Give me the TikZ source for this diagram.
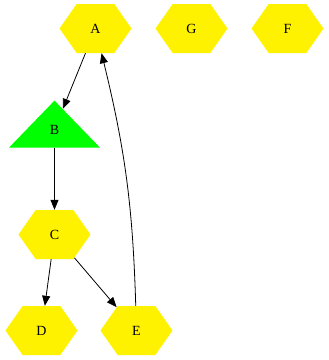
\documentclass[tikz,border=0pt]{standalone}
\usepackage{fontspec}
\setmainfont{Liberation Serif}
\usetikzlibrary{shapes.geometric,shapes.symbols,arrows.meta}
\begin{document}
\begin{tikzpicture}[>={Triangle[length=10pt,width=8pt]}, x=1pt, y=-1pt,
  font=\fontsize{14}{16}\selectfont,
  hexnode/.style={signal, signal to=east and west, signal pointer angle=110,
    fill=yellow, draw=none, inner sep=0pt, minimum width=72pt, minimum height=49pt},
  trinode/.style={isosceles triangle, shape border rotate=90, isosceles triangle stretches,
    fill=green, draw=none, inner sep=0pt, minimum width=91pt, minimum height=47pt},
  edge/.style={->, line width=0.8pt}]
  \useasboundingbox (0,0) rectangle (329,360);

  % Knoten
  \node[hexnode] (A) at (95.5,28.5) {A};
  \node[hexnode] (G) at (191.5,28.5) {G};
  \node[hexnode] (F) at (287.5,28.5) {F};
  \node[trinode] (B) at (54.5,129.5) {B};
  \node[hexnode] (C) at (54.5,234.5) {C};
  \node[hexnode] (D) at (41.5,330.5) {D};
  \node[hexnode] (E) at (136.5,330.5) {E};

  % Kanten
  \draw[edge] (A) -- (B);
  \draw[edge] (B) -- (C);
  \draw[edge] (C) -- (D);
  \draw[edge] (C) -- (E);
  \draw[edge] (E) to[bend right=6] (A);
\end{tikzpicture}
\end{document}
